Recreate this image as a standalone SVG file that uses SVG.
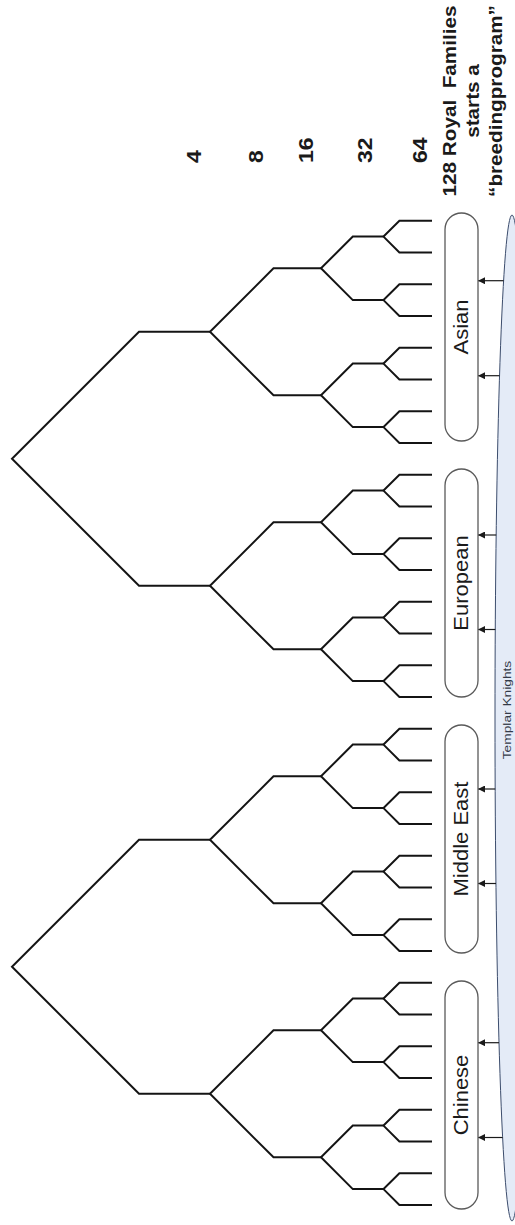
<svg xmlns="http://www.w3.org/2000/svg" width="515" height="1225" viewBox="0 0 515 1225">
<defs>
<style>
.tree{fill:none;stroke:#141414;stroke-width:2;stroke-linejoin:miter}
.box{fill:#ffffff;stroke:#5a5a5a;stroke-width:1.3}
.btxt{font-family:"Liberation Sans",Arial,sans-serif;font-size:20px;fill:#1a1a1a;text-anchor:middle}
.num{font-family:"Liberation Sans",Arial,sans-serif;font-size:20px;font-weight:bold;fill:#1a1a1a}
.head{font-family:"Liberation Sans",Arial,sans-serif;font-size:18px;font-weight:bold;fill:#1a1a1a;text-anchor:middle}
.tk{font-family:"Liberation Sans",Arial,sans-serif;font-size:11px;fill:#333a48;text-anchor:middle}
.arr{stroke:#1a1a1a;stroke-width:1.2;fill:none;marker-end:url(#ah)}
</style>
<marker id="ah" viewBox="0 0 10 10" refX="10" refY="5" markerWidth="8" markerHeight="7" markerUnits="userSpaceOnUse" orient="auto">
<path d="M0 0L10 5L0 10z" fill="#1a1a1a"/>
</marker>
</defs>
<rect width="515" height="1225" fill="#ffffff"/>

<g id="templar-knights">
<ellipse cx="512" cy="718" rx="17" ry="503" fill="#e4ebf7" stroke="#3c4d6d" stroke-width="1"/>
<text class="tk" transform="translate(511,710) rotate(-90) scale(1.25,1)">Templar Knights</text>
</g>

<g id="connectors">
<g id="tree" class="tree">
<path d="M210 331.8H139L12 458.8L139 585.8H210"/>
<path d="M210 839.8H139L12 966.8L139 1093.8H210"/>
<path d="M321 268.3H273.5L210 331.8L273.5 395.3H321"/>
<path d="M321 522.3H273.5L210 585.8L273.5 649.3H321"/>
<path d="M321 776.3H273.5L210 839.8L273.5 903.3H321"/>
<path d="M321 1030.3H273.5L210 1093.8L273.5 1157.3H321"/>
<path d="M383.5 236.6H352.8L321 268.3L352.8 300.1H383.5"/>
<path d="M383.5 363.6H352.8L321 395.3L352.8 427.1H383.5"/>
<path d="M383.5 490.6H352.8L321 522.3L352.8 554.1H383.5"/>
<path d="M383.5 617.6H352.8L321 649.3L352.8 681.1H383.5"/>
<path d="M383.5 744.6H352.8L321 776.3L352.8 808.1H383.5"/>
<path d="M383.5 871.6H352.8L321 903.3L352.8 935.1H383.5"/>
<path d="M383.5 998.6H352.8L321 1030.3L352.8 1062.1H383.5"/>
<path d="M383.5 1125.6H352.8L321 1157.3L352.8 1189.1H383.5"/>
<path d="M432 220.7H399.4L383.5 236.6L399.4 252.5H432"/>
<path d="M432 284.2H399.4L383.5 300.1L399.4 316H432"/>
<path d="M432 347.7H399.4L383.5 363.6L399.4 379.5H432"/>
<path d="M432 411.2H399.4L383.5 427.1L399.4 443H432"/>
<path d="M432 474.7H399.4L383.5 490.6L399.4 506.5H432"/>
<path d="M432 538.2H399.4L383.5 554.1L399.4 570H432"/>
<path d="M432 601.7H399.4L383.5 617.6L399.4 633.5H432"/>
<path d="M432 665.2H399.4L383.5 681.1L399.4 697H432"/>
<path d="M432 728.7H399.4L383.5 744.6L399.4 760.5H432"/>
<path d="M432 792.2H399.4L383.5 808.1L399.4 824H432"/>
<path d="M432 855.7H399.4L383.5 871.6L399.4 887.5H432"/>
<path d="M432 919.2H399.4L383.5 935.1L399.4 951H432"/>
<path d="M432 982.7H399.4L383.5 998.6L399.4 1014.5H432"/>
<path d="M432 1046.2H399.4L383.5 1062.1L399.4 1078H432"/>
<path d="M432 1109.7H399.4L383.5 1125.6L399.4 1141.5H432"/>
<path d="M432 1173.2H399.4L383.5 1189.1L399.4 1205H432"/>
</g>
<g id="arrows">
<path class="arr" d="M503.6 280.7H478"/>
<path class="arr" d="M499.5 375.7H478"/>
<path class="arr" d="M496.2 535H478"/>
<path class="arr" d="M495.3 629.5H478"/>
<path class="arr" d="M495.2 789H478"/>
<path class="arr" d="M496 883.5H478"/>
<path class="arr" d="M499 1042.7H478"/>
<path class="arr" d="M502.6 1137.5H478"/>
</g>
</g>

<g id="asian">
<rect class="box" x="445" y="213" width="33" height="228" rx="16.5"/>
<text class="btxt" transform="translate(468,327) rotate(-90) scale(1.1,1)">Asian</text>
</g>
<g id="european">
<rect class="box" x="445" y="469" width="33" height="228" rx="16.5"/>
<text class="btxt" transform="translate(468,583) rotate(-90) scale(1.1,1)">European</text>
</g>
<g id="middle-east">
<rect class="box" x="445" y="725" width="33" height="228" rx="16.5"/>
<text class="btxt" transform="translate(468,839) rotate(-90) scale(1.1,1)">Middle East</text>
</g>
<g id="chinese">
<rect class="box" x="445" y="981" width="33" height="228" rx="16.5"/>
<text class="btxt" transform="translate(468,1095) rotate(-90) scale(1.1,1)">Chinese</text>
</g>

<g id="level-labels">
<text class="num" transform="translate(201,163) rotate(-90) scale(1.15,1)">4</text>
<text class="num" transform="translate(263,163) rotate(-90) scale(1.15,1)">8</text>
<text class="num" transform="translate(313,163) rotate(-90) scale(1.15,1)">16</text>
<text class="num" transform="translate(372,163) rotate(-90) scale(1.15,1)">32</text>
<text class="num" transform="translate(427,163) rotate(-90) scale(1.15,1)">64</text>
</g>

<g id="title">
<text class="head" transform="translate(456,101) rotate(-90) scale(1.15,1)" xml:space="preserve">128 Royal  Families</text>
<text class="head" transform="translate(479,101) rotate(-90) scale(1.15,1)">starts a</text>
<text class="head" transform="translate(502,101) rotate(-90) scale(1.15,1)">“breedingprogram”</text>
</g>
</svg>
